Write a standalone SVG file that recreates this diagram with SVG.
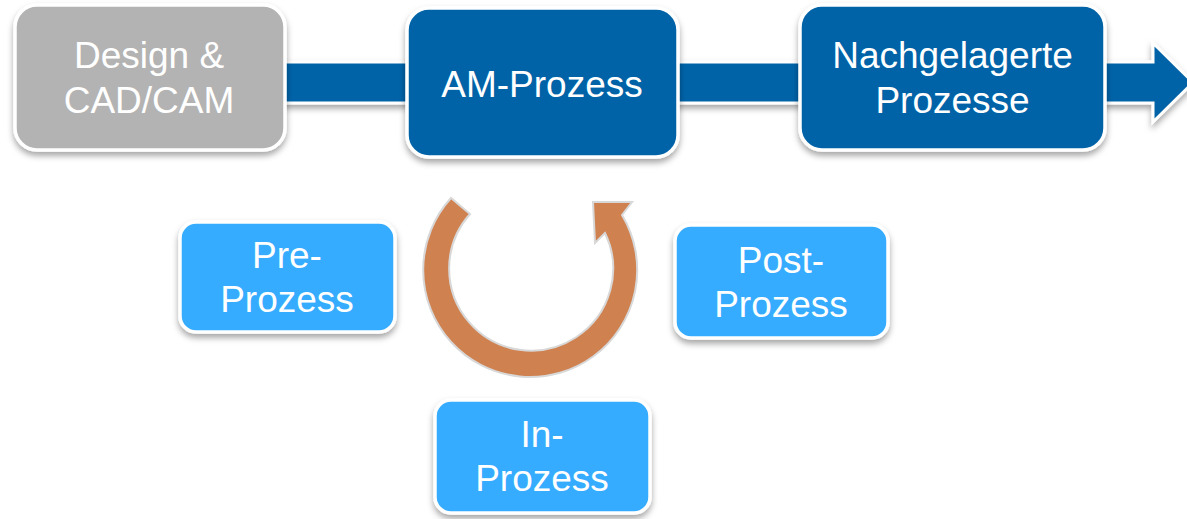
<svg xmlns="http://www.w3.org/2000/svg" width="1187" height="519" viewBox="0 0 1187 519">
<defs>
<filter id="sh" x="-10%" y="-10%" width="120%" height="130%">
<feDropShadow dx="0" dy="4" stdDeviation="3" flood-color="#000" flood-opacity="0.35"/>
</filter>
<style>
.box{stroke:#fff;stroke-width:3.5;filter:url(#sh)}
.gray{fill:#b3b3b3}
.dark{fill:#0064a8}
.light{fill:#36acff}
.t{font-family:"Liberation Sans",Arial,sans-serif;font-size:37px;fill:#fff;text-anchor:middle}
</style>
</defs>
<rect width="1187" height="519" fill="#fff"/>
<g id="connectors">
<path d="M280,62 L1153,62 L1153,43 L1193,82.5 L1153,122 L1153,103 L280,103 Z" fill="#0064a8" stroke="#fff" stroke-width="3" filter="url(#sh)"/>
<path id="cycle" d="M451,198 A107,107 0 1 0 622,215 L632,202 L593,202 L595,243 L605,233 A82,82 0 1 1 470,214 Z" fill="#cf8150" stroke="#d8d8d8" stroke-width="2" stroke-linejoin="miter"/>
</g>
<g id="design">
<rect class="box gray" x="15" y="5" width="270" height="145" rx="22"/>
<text class="t" x="149" y="68">Design &amp;</text>
<text class="t" x="149" y="113">CAD/CAM</text>
</g>
<g id="am">
<rect class="box dark" x="407" y="8" width="271" height="149" rx="22"/>
<text class="t" x="542" y="97">AM-Prozess</text>
</g>
<g id="nach">
<rect class="box dark" x="800" y="5" width="305" height="145" rx="22"/>
<text class="t" x="952.5" y="68">Nachgelagerte</text>
<text class="t" x="952.5" y="113">Prozesse</text>
</g>
<g id="pre">
<rect class="box light" x="180" y="222" width="215" height="110" rx="16"/>
<text class="t" x="287" y="268">Pre-</text>
<text class="t" x="287" y="312">Prozess</text>
</g>
<g id="post">
<rect class="box light" x="675" y="225" width="213" height="113" rx="16"/>
<text class="t" x="781" y="273">Post-</text>
<text class="t" x="781" y="317">Prozess</text>
</g>
<g id="in">
<rect class="box light" x="435" y="400" width="215" height="113" rx="16"/>
<text class="t" x="542" y="447">In-</text>
<text class="t" x="542" y="491">Prozess</text>
</g>
</svg>
